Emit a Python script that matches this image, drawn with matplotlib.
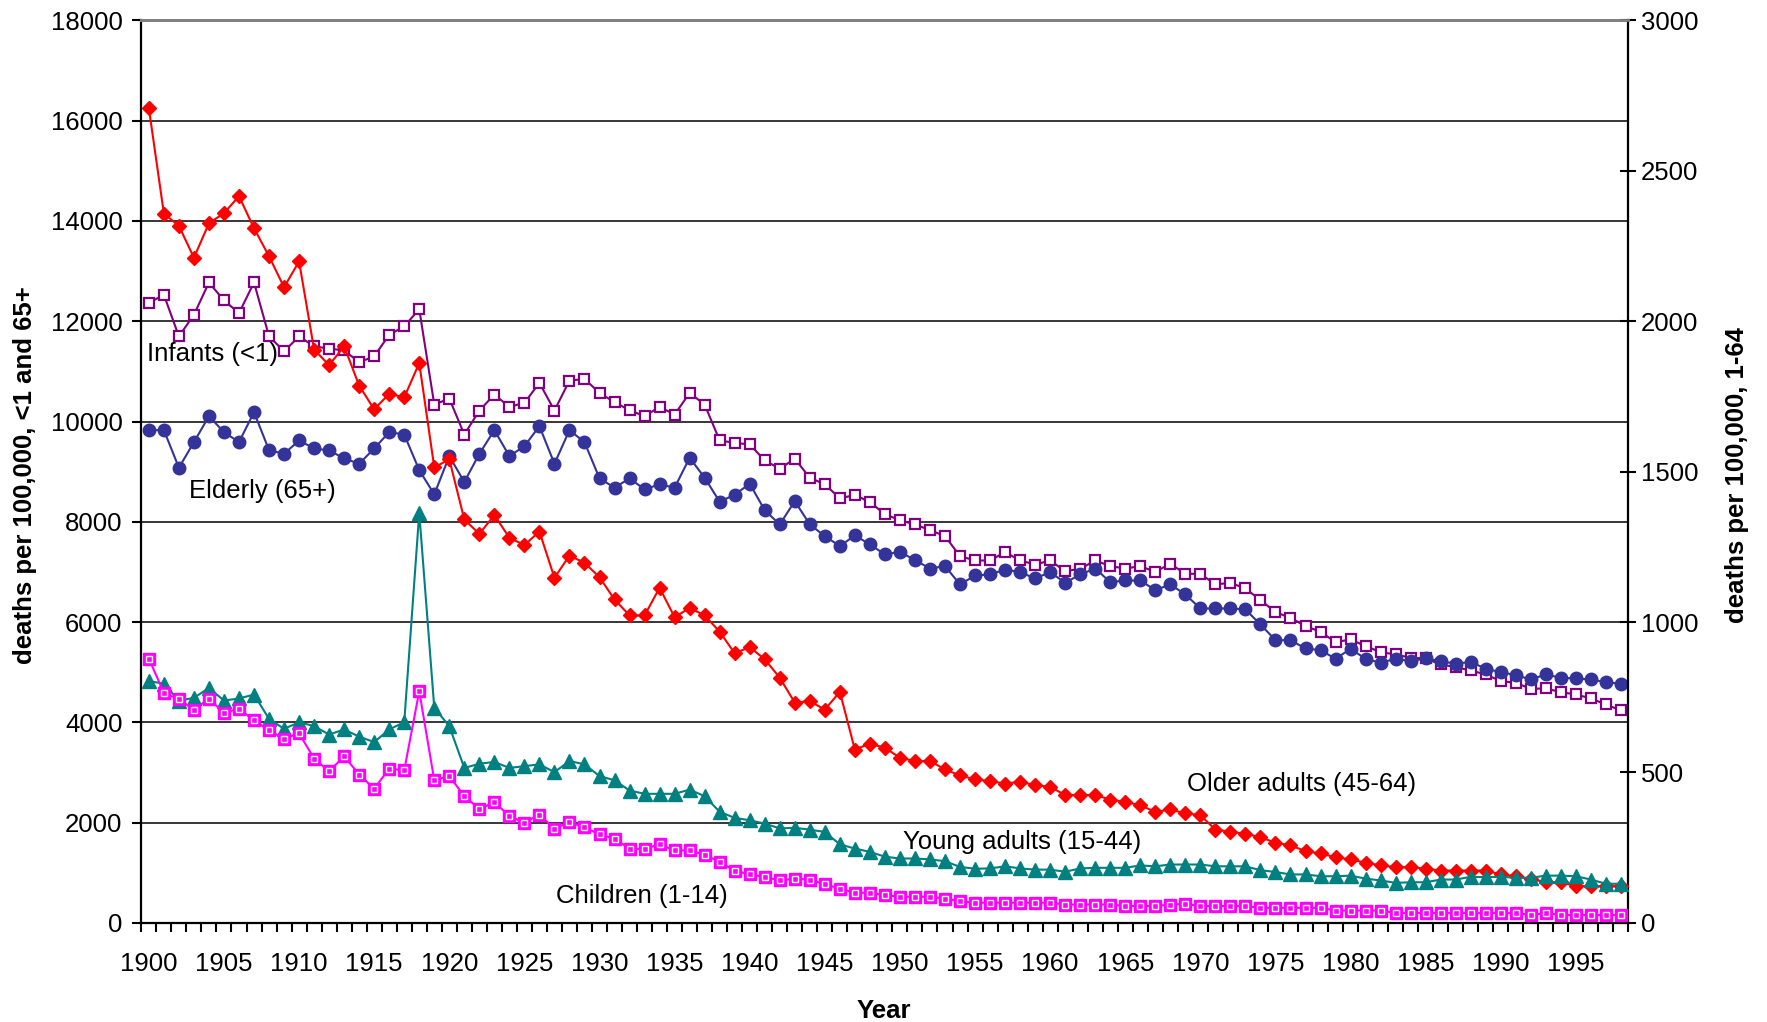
import numpy as np
import matplotlib
matplotlib.use("Agg")
import matplotlib.pyplot as plt

plt.rcParams['font.family'] = ['Liberation Sans', 'DejaVu Sans']

years = list(range(1900, 1999))

# left axis (<1 and 65+), deaths per 100,000
infants = [12368, 12527, 11698, 12130, 12773, 12415, 12163, 12773, 11698, 11400,
           11698, 11500, 11453, 11420, 11181, 11300, 11731, 11897, 12242, 10338,
           10458, 9741, 10219, 10537, 10292, 10372, 10770, 10219, 10816, 10849,
           10570, 10385, 10226, 10106, 10292, 10139, 10570, 10338, 9622, 9575,
           9542, 9224, 9058, 9257, 8879, 8746, 8468, 8534, 8395, 8149,
           8033, 7947, 7834, 7714, 7315, 7228, 7228, 7395, 7228, 7148,
           7228, 7015, 7062, 7228, 7115, 7068, 7115, 7002, 7162, 6962,
           6962, 6750, 6783, 6670, 6437, 6198, 6085, 5919, 5806, 5600,
           5653, 5520, 5400, 5354, 5287, 5274, 5154, 5101, 5034, 4955,
           4822, 4788, 4669, 4676, 4602, 4556, 4476, 4356, 4236]
elderly = [9828, 9828, 9078, 9589, 10106, 9788, 9589, 10186, 9429, 9356,
           9622, 9463, 9423, 9264, 9157, 9463, 9788, 9741, 9031, 8547,
           9310, 8793, 9356, 9828, 9310, 9509, 9907, 9157, 9828, 9589,
           8866, 8680, 8866, 8647, 8746, 8680, 9277, 8879, 8400, 8540,
           8759, 8230, 7947, 8412, 7947, 7714, 7515, 7728, 7548, 7348,
           7401, 7235, 7068, 7115, 6750, 6929, 6949, 7048, 6996, 6869,
           6996, 6783, 6949, 7068, 6796, 6829, 6829, 6637, 6750, 6550,
           6271, 6271, 6271, 6251, 5952, 5639, 5639, 5473, 5440, 5267,
           5466, 5267, 5187, 5267, 5220, 5274, 5220, 5167, 5207, 5067,
           5001, 4941, 4855, 4955, 4888, 4875, 4855, 4801, 4768]

# right axis (1-64), deaths per 100,000
older = [2708, 2358, 2317, 2211, 2326, 2359, 2416, 2309, 2216, 2113,
         2199, 1906, 1854, 1917, 1786, 1707, 1759, 1747, 1861, 1514,
         1541, 1341, 1293, 1356, 1280, 1256, 1301, 1147, 1221, 1197,
         1149, 1075, 1022, 1022, 1114, 1016, 1047, 1022, 968, 896,
         917, 876, 815, 732, 737, 709, 768, 576, 596, 582,
         549, 538, 538, 510, 490, 477, 471, 463, 469, 458,
         452, 425, 425, 425, 410, 402, 391, 369, 377, 364,
         358, 310, 303, 296, 285, 266, 258, 238, 231, 218,
         211, 200, 191, 185, 185, 180, 174, 174, 174, 174,
         161, 155, 146, 135, 135, 122, 122, 122, 122]
young = [804, 795, 739, 748, 781, 739, 746, 759, 678, 645,
         667, 654, 626, 643, 619, 601, 643, 667, 1363, 715,
         654, 515, 529, 535, 515, 521, 527, 501, 538, 527,
         488, 474, 440, 429, 429, 429, 443, 421, 369, 349,
         341, 330, 314, 316, 310, 302, 261, 247, 236, 220,
         214, 214, 211, 205, 186, 180, 181, 188, 181, 177,
         177, 170, 181, 183, 183, 183, 191, 188, 194, 194,
         194, 188, 188, 188, 175, 169, 161, 161, 155, 155,
         157, 147, 141, 133, 135, 135, 144, 144, 153, 152,
         153, 150, 150, 157, 157, 155, 144, 130, 130]
children = [878, 765, 743, 709, 745, 698, 712, 673, 640, 612,
            630, 546, 504, 554, 493, 446, 513, 507, 770, 474,
            488, 421, 379, 401, 355, 333, 360, 313, 335, 318,
            294, 280, 246, 246, 261, 241, 241, 227, 202, 174,
            161, 153, 141, 147, 144, 128, 114, 100, 100, 92,
            87, 87, 87, 81, 72, 67, 67, 67, 67, 67,
            67, 61, 61, 61, 61, 56, 56, 56, 61, 63,
            56, 56, 56, 56, 50, 50, 50, 50, 50, 41,
            41, 41, 41, 33, 33, 33, 33, 33, 33, 33,
            33, 33, 26, 33, 26, 26, 26, 26, 26]

label_years = list(range(1900, 1996, 5))
left_ticks = list(range(0, 18001, 2000))
right_ticks = list(range(0, 3001, 500))

fs = 18.5

fig = plt.figure(figsize=(17.67, 10.22), dpi=100)
ax = fig.add_axes([0.080, 0.097, 0.8416, 0.883])
ax2 = ax.twinx()

ax.set_xlim(years[0] - 0.5, years[-1] + 0.5)
ax.set_ylim(left_ticks[0], left_ticks[-1])
ax2.set_ylim(right_ticks[0], right_ticks[-1])

lw = 1.5
ax.plot(years, infants, color='#800080', lw=lw, marker='s', ms=7.8,
        mfc='white', mec='#800080', mew=1.6, zorder=3)
ax.plot(years, elderly, color='#333399', lw=lw, marker='o', ms=9,
        mfc='#333399', mec='#333399', zorder=4)

ax2.plot(years, older, color='#FF0000', lw=lw, marker='D', ms=7.5,
         mfc='#FF0000', mec='#FF0000', zorder=3)
ax2.plot(years, young, color='#008080', lw=lw, marker='^', ms=10,
         mfc='#008080', mec='#008080', zorder=3)
ax2.plot(years, children, color='#FF00FF', lw=lw, marker='s', ms=8.3,
         mfc='#FF00FF', mec='#FF00FF', zorder=3)
ax2.plot(years, children, ls='none', marker='s', ms=4.2,
         mfc='none', mec='white', mew=1.0, zorder=4)

# y grid (black), top border grey
ax.set_yticks(left_ticks)
ax.yaxis.grid(True, color='black', lw=1.1)
for gl, t in zip(ax.yaxis.get_gridlines(), left_ticks):
    if t in (left_ticks[0], left_ticks[-1]):
        gl.set_visible(False)
ax.set_axisbelow(True)

for a in (ax, ax2):
    a.spines['top'].set_color('#808080')
    a.spines['top'].set_linewidth(2)
ax.spines['right'].set_visible(False)
ax2.spines['left'].set_visible(False)
ax2.spines['bottom'].set_visible(False)
for s in ('left', 'bottom'):
    ax.spines[s].set_linewidth(1.6)
ax2.spines['right'].set_linewidth(1.6)

ax.tick_params(axis='y', direction='out', length=6.5, width=1.5,
               labelsize=fs, pad=7)
ax2.set_yticks(right_ticks)
ax2.tick_params(axis='y', direction='inout', length=12, width=1.5,
                labelsize=fs, pad=3)

# category axis: tick marks between years, labels every 5 years
ax.set_xticks(label_years)
ax.set_xticks(np.arange(years[0] - 0.5, years[-1] + 1), minor=True)
ax.tick_params(axis='x', which='major', length=0, labelsize=fs, pad=21)
ax.tick_params(axis='x', which='minor', direction='out', length=6.5,
               width=1.5)

fig.text(0.5, 0.011, 'Year', ha='center', va='center', fontsize=fs,
         fontweight='bold')
fig.text(0.014, 0.535, 'deaths per 100,000, <1 and 65+', rotation=90,
         ha='center', va='center', fontsize=fs, fontweight='bold')
fig.text(0.983, 0.535, 'deaths per 100,000, 1-64', rotation=90,
         ha='center', va='center', fontsize=fs, fontweight='bold')

# series labels
ax.text(1899.85, 11350, 'Infants (<1)', fontsize=fs, va='center', zorder=6)
ax.text(1902.65, 8613, 'Elderly (65+)', fontsize=fs, va='center', zorder=6)
ax.text(1927.1, 532, 'Children (1-14)', fontsize=fs, va='center', zorder=6)
ax.text(1950.2, 1616, 'Young adults (15-44)', fontsize=fs, va='center', zorder=6)
ax.text(1969.1, 2760, 'Older adults (45-64)', fontsize=fs, va='center', zorder=6)

fig.savefig('out.png', dpi=100)
